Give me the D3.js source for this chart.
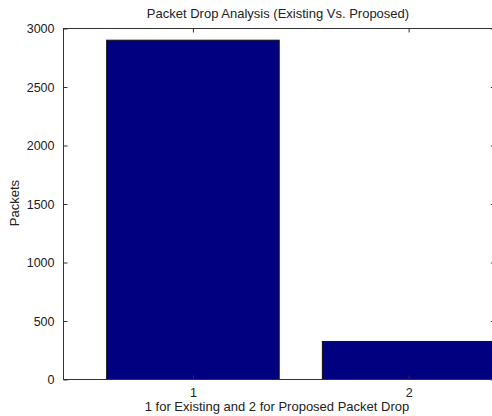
<!DOCTYPE html>
<html><head><meta charset="utf-8">
<script src="https://cdn.jsdelivr.net/npm/d3@7"></script>
<style>body{margin:0;background:#fff}svg{display:block}text{font-family:"Liberation Sans",Arial,sans-serif;fill:#222}</style>
</head><body><svg id="c" width="492" height="416"></svg>
<script>
const categories = [1, 2];
const packets = [2900, 325];
const yTicks = [0, 500, 1000, 1500, 2000, 2500, 3000];
const title = "Packet Drop Analysis (Existing Vs. Proposed)";
const xLabel = "1 for Existing and 2 for Proposed Packet Drop";
const yLabel = "Packets";

const svg = d3.select("#c");
const L = 63, T = 28, B = 379, R = 494.4;
const x = d3.scaleLinear().domain([0.4, 2.4]).range([L, R]);
const y = d3.scaleLinear().domain([0, 3000]).range([B, T]);
const bw = 0.8;

svg.append("g").selectAll("rect").data(categories).join("rect")
  .attr("x", (d) => x(d - bw / 2) + 0.5)
  .attr("y", (d, i) => y(packets[i]) + 0.5)
  .attr("width", x(1 + bw) - x(1))
  .attr("height", (d, i) => y(0) - y(packets[i]))
  .attr("fill", "#000080").attr("stroke", "#111").attr("stroke-width", 1);

const ax = "#333";
svg.append("rect").attr("x", L + 0.5).attr("y", T + 0.5).attr("width", R - L).attr("height", B - T)
  .attr("fill", "none").attr("stroke", ax).attr("stroke-width", 1);

const yAxis = d3.axisLeft(y).tickValues(yTicks).tickSizeInner(-4).tickSizeOuter(0).tickPadding(9).tickFormat(d3.format("d"));
const gy = svg.append("g").attr("transform", `translate(${L + 0.5},0.5)`).call(yAxis);
const yAxisR = d3.axisRight(y).tickValues(yTicks).tickSizeInner(-4).tickSizeOuter(0).tickFormat("");
const gyr = svg.append("g").attr("transform", `translate(${R + 0.5},0.5)`).call(yAxisR);
const xAxis = d3.axisBottom(x).tickValues(categories).tickSizeInner(-4).tickSizeOuter(0).tickPadding(9).tickFormat(d3.format("d"));
const gx = svg.append("g").attr("transform", `translate(0.5,${B + 0.5})`).call(xAxis);
const xAxisT = d3.axisTop(x).tickValues(categories).tickSizeInner(-4).tickSizeOuter(0).tickFormat("");
const gxt = svg.append("g").attr("transform", `translate(0.5,${T + 0.5})`).call(xAxisT);
[gy, gyr, gx, gxt].forEach(g => {
  g.select(".domain").remove();
  g.selectAll("line").attr("stroke", ax);
  g.selectAll("text").attr("font-size", 12.5).attr("fill", "#222").style("font-family", '"Liberation Sans",Arial,sans-serif');
});

svg.append("text").attr("x", 278).attr("y", 18).attr("text-anchor", "middle").attr("font-size", 13).text(title);
svg.append("text").attr("x", 277).attr("y", 411).attr("text-anchor", "middle").attr("font-size", 13).text(xLabel);
svg.append("text").attr("transform", "translate(19,203) rotate(-90)").attr("text-anchor", "middle").attr("font-size", 13).text(yLabel);
</script></body></html>
